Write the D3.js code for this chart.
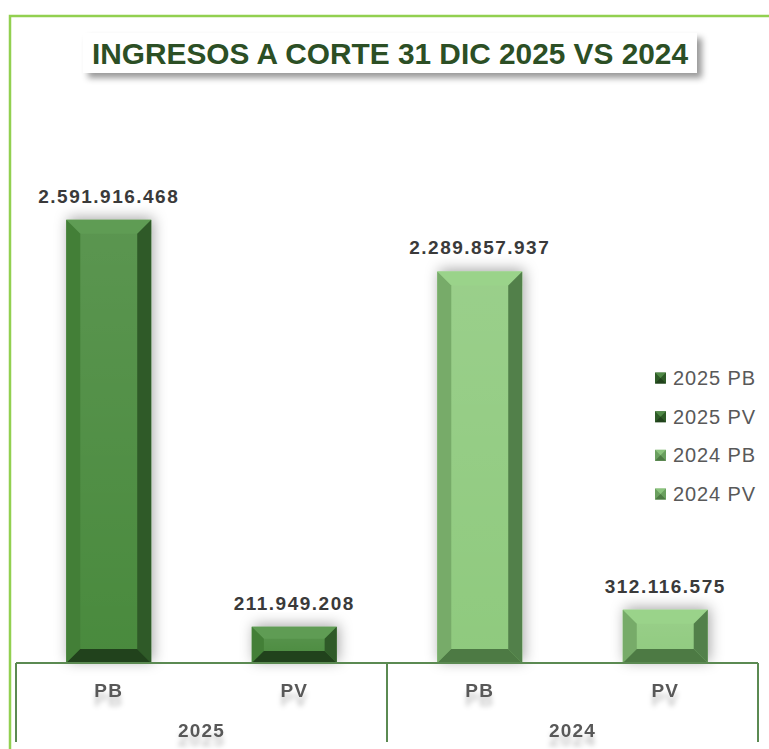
<!DOCTYPE html>
<html>
<head>
<meta charset="utf-8">
<script src="https://cdn.jsdelivr.net/npm/d3@7"></script>
<style>
  html, body { margin: 0; padding: 0; background: #fff; }
  #chart { width: 769px; height: 749px; }
</style>
</head>
<body>
<div id="chart"></div>
<script>
// data
var groups = ["2025", "2024"];
var categories = ["PB", "PV"];
var values2025 = [2591916468, 211949208];
var values2024 = [2289857937, 312116575];
var legendLabels = ["2025 PB", "2025 PV", "2024 PB", "2024 PV"];
var title = "INGRESOS A CORTE 31 DIC 2025 VS 2024";

var palette = {
  "2025": { face: "#4a8a3d", top: "#5f9c54", left: "#437f37", right: "#2f5a28", bottom: "#21421c", mark: "#2e5b27" },
  "2024": { face: "#8fca7e", top: "#9ad38a", left: "#77ab69", right: "#52804a", bottom: "#4d7a44", mark: "#6a9f5f" }
};

var container = d3.select("#chart");
var width = 769, height = 749;
var svg = container.append("svg").attr("width", width).attr("height", height);

var defs = svg.append("defs");
var sh = defs.append("filter").attr("id", "barShadow")
  .attr("x", "-40%").attr("y", "-40%").attr("width", "180%").attr("height", "180%");
sh.append("feDropShadow").attr("dx", 2).attr("dy", -2).attr("stdDeviation", 7)
  .attr("flood-color", "#000").attr("flood-opacity", 0.35);

var tsh = defs.append("filter").attr("id", "txtShadow")
  .attr("x", "-20%").attr("y", "-20%").attr("width", "140%").attr("height", "200%");
tsh.append("feDropShadow").attr("dx", 0).attr("dy", 9).attr("stdDeviation", 2.5)
  .attr("flood-color", "#000").attr("flood-opacity", 0.22);

var boxSh = defs.append("filter").attr("id", "boxShadow")
  .attr("x", "-10%").attr("y", "-30%").attr("width", "120%").attr("height", "180%");
boxSh.append("feDropShadow").attr("dx", 5).attr("dy", 5).attr("stdDeviation", 3)
  .attr("flood-color", "#000").attr("flood-opacity", 0.4);

// vertical light gradient on bar faces
var faceGrad = defs.append("linearGradient").attr("id", "faceGrad")
  .attr("x1", 0).attr("y1", 0).attr("x2", 0).attr("y2", 1);
faceGrad.append("stop").attr("offset", "0%").attr("stop-color", "#fff").attr("stop-opacity", 0.1);
faceGrad.append("stop").attr("offset", "100%").attr("stop-color", "#fff").attr("stop-opacity", 0);

// outer light-green frame
svg.append("path")
  .attr("d", "M10,749 L10,16 L769,16")
  .attr("fill", "none").attr("stroke", "#92d050").attr("stroke-width", 2.5);

// title box
svg.append("rect").attr("x", 83).attr("y", 33).attr("width", 614).attr("height", 40)
  .attr("fill", "#fff").attr("filter", "url(#boxShadow)");
svg.append("text")
  .attr("x", 390).attr("y", 64)
  .attr("text-anchor", "middle")
  .attr("textLength", 596).attr("lengthAdjust", "spacingAndGlyphs")
  .style("font-family", "'Liberation Sans Narrow', 'Arial Narrow', 'Liberation Sans', Arial, sans-serif")
  .style("font-weight", "bold").style("font-size", "30px")
  .attr("fill", "#2c4f25")
  .text(title);

// scales
var baseY = 663;
var x0 = d3.scaleBand().domain(groups).range([16, 758]);
var x1 = d3.scaleBand().domain(categories).range([0, x0.bandwidth()])
  .paddingInner(0.542).paddingOuter(0.271);
var y = d3.scaleLinear().domain([0, 3000000000]).range([baseY, 150]);

var fmt = d3.formatLocale({ decimal: ",", thousands: ".", grouping: [3], currency: ["", ""] }).format(",d");

var rows = [];
groups.forEach(function (g) {
  var vals = g === "2025" ? values2025 : values2024;
  categories.forEach(function (c, i) { rows.push({ group: g, cat: c, value: vals[i] }); });
});

// bars with bevel
var bars = svg.append("g").selectAll("g.bar").data(rows).enter().append("g").attr("class", "bar");

bars.each(function (d) {
  var gsel = d3.select(this);
  var xl = x0(d.group) + x1(d.cat), w = x1.bandwidth();
  var yt = y(d.value), h = baseY - yt;
  var xr = xl + w;
  var b = Math.min(14, h / 3);
  var col = palette[d.group];
  gsel.append("rect").attr("x", xl).attr("y", yt).attr("width", w).attr("height", h)
    .attr("fill", col.face).attr("filter", "url(#barShadow)");
  gsel.append("rect").attr("x", xl).attr("y", yt).attr("width", w).attr("height", h)
    .attr("fill", "url(#faceGrad)");
  var poly = function (pts, fill) {
    gsel.append("polygon").attr("points", pts.map(function (p) { return p.join(","); }).join(" ")).attr("fill", fill);
  };
  poly([[xl, yt], [xr, yt], [xr - b, yt + b], [xl + b, yt + b]], col.top);
  poly([[xl, yt], [xl + b, yt + b], [xl + b, baseY - b], [xl, baseY]], col.left);
  poly([[xr, yt], [xr, baseY], [xr - b, baseY - b], [xr - b, yt + b]], col.right);
  poly([[xl, baseY], [xl + b, baseY - b], [xr - b, baseY - b], [xr, baseY]], col.bottom);
});

// value labels
svg.append("g").selectAll("text").data(rows).enter().append("text")
  .attr("x", function (d) { return x0(d.group) + x1(d.cat) + x1.bandwidth() / 2; })
  .attr("y", function (d) { return y(d.value) - 17; })
  .attr("text-anchor", "middle")
  .style("font-family", "'Liberation Sans', Arial, sans-serif")
  .style("font-weight", "bold").style("font-size", "19px").style("letter-spacing", "1.5px")
  .attr("fill", "#3a3a3a")
  .text(function (d) { return fmt(d.value); });

// axis lines
var axisCol = "#5b8a52";
svg.append("line").attr("x1", 16).attr("x2", 758).attr("y1", baseY).attr("y2", baseY)
  .attr("stroke", axisCol).attr("stroke-width", 2);
var seps = [x0.range()[0]].concat(groups.map(function (g) { return x0(g) + x0.bandwidth(); }));
svg.append("g").selectAll("line").data(seps).enter().append("line")
  .attr("x1", function (d) { return d; }).attr("x2", function (d) { return d; })
  .attr("y1", baseY).attr("y2", 742)
  .attr("stroke", axisCol).attr("stroke-width", 2);

// category + group labels
svg.append("g").selectAll("text").data(rows).enter().append("text")
  .attr("x", function (d) { return x0(d.group) + x1(d.cat) + x1.bandwidth() / 2; })
  .attr("y", 697)
  .attr("text-anchor", "middle")
  .style("font-family", "'Liberation Sans', Arial, sans-serif")
  .style("font-weight", "bold").style("font-size", "19px").style("letter-spacing", "1.2px")
  .attr("fill", "#595959").attr("filter", "url(#txtShadow)")
  .text(function (d) { return d.cat; });

svg.append("g").selectAll("text").data(groups).enter().append("text")
  .attr("x", function (d) { return x0(d) + x0.bandwidth() / 2; })
  .attr("y", 737)
  .attr("text-anchor", "middle")
  .style("font-family", "'Liberation Sans', Arial, sans-serif")
  .style("font-weight", "bold").style("font-size", "19px").style("letter-spacing", "1.2px")
  .attr("fill", "#595959").attr("filter", "url(#txtShadow)")
  .text(function (d) { return d; });

// legend
var legY = d3.scalePoint().domain(legendLabels).range([378, 494]);
var leg = svg.append("g").selectAll("g").data(legendLabels).enter().append("g")
  .attr("transform", function (d) { return "translate(655," + legY(d) + ")"; });
leg.append("rect").attr("x", 0).attr("y", -5.5).attr("width", 11).attr("height", 11)
  .attr("fill", function (d) { return palette[d.slice(0, 4)].mark; });
leg.append("polygon").attr("points", "0,-5.5 11,-5.5 5.5,0")
  .attr("fill", function (d) { return palette[d.slice(0, 4)].top; }).attr("opacity", 0.7);
leg.append("polygon").attr("points", "0,5.5 11,5.5 5.5,0")
  .attr("fill", function (d) { return palette[d.slice(0, 4)].bottom; });
leg.append("text").attr("x", 18).attr("y", 7)
  .style("font-family", "'Liberation Sans', Arial, sans-serif")
  .style("font-size", "20px").style("letter-spacing", "0.9px")
  .attr("fill", "#595959")
  .text(function (d) { return d; });
</script>
</body>
</html>
